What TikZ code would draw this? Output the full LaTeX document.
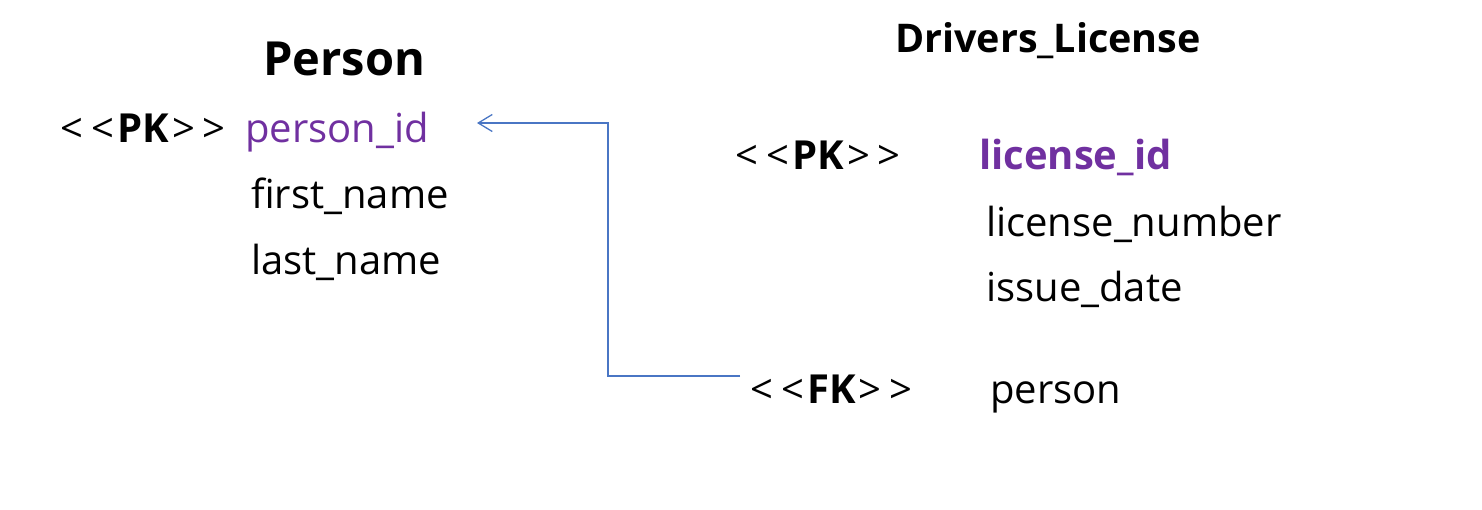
\documentclass[tikz,border=0pt]{standalone}
\usepackage{fontspec}
\setmainfont{Open Sans}
\usetikzlibrary{arrows.meta}
\definecolor{keypurple}{HTML}{7030A0}
\definecolor{linkblue}{HTML}{4A76C4}
\newcommand{\stereo}[1]{<\hspace{0.2em}<\hspace{0.08em}\textbf{#1}\hspace{0.08em}>\hspace{0.2em}>}
\begin{document}
\begin{tikzpicture}[x=1pt,y=-1pt,
  field/.style={anchor=base west, inner sep=0pt, font=\fontsize{40}{44}\selectfont},
  keyfield/.style={field, text=keypurple},
  title/.style={anchor=base, inner sep=0pt, font=\bfseries\fontsize{47}{50}\selectfont},
  link/.style={draw=linkblue, line width=1.3pt, -{Straight Barb[length=14pt,width=17pt,line width=1.3pt]}}]
\useasboundingbox (0,0) rectangle (1482,510);
% Person table
\node[title] (ptitle) at (344,76) {Person};
\node[field] (ppk) at (60,143) {\stereo{PK}};
\node[keyfield] (pid) at (245,143) {person\_id};
\node[field] (pfirst) at (251,209) {first\_name};
\node[field] (plast) at (251,275) {last\_name};
% Drivers_License table
\node[title, font=\bfseries\fontsize{39.5}{42}\selectfont] (dtitle) at (1048,53) {Drivers\_License};
\node[field] (dpk) at (735,170) {\stereo{PK}};
\node[keyfield, font=\bfseries\fontsize{40}{44}\selectfont] (did) at (979,170) {license\_id};
\node[field] (dnum) at (986,237) {license\_number};
\node[field] (ddate) at (986,302) {issue\_date};
\node[field] (dfk) at (750,403) {\stereo{FK}};
\node[field] (dperson) at (990,403) {person};
% connector
\coordinate (fkend) at (740,376);
\coordinate (bendx) at (608,0);
\coordinate (tip) at (477,123);
\draw[link] (fkend) -- (fkend -| bendx) |- (tip);
\end{tikzpicture}
\end{document}
